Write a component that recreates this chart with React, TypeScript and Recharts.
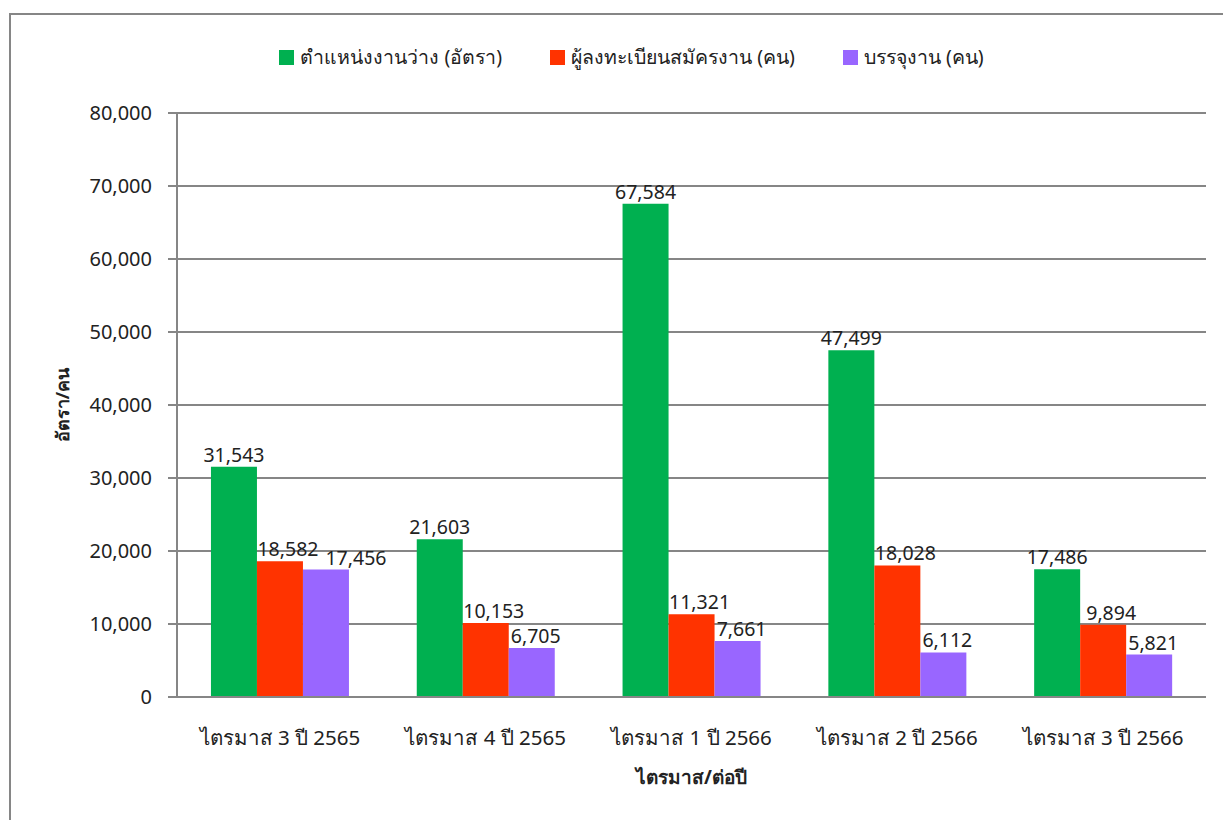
import { Bar, BarChart, CartesianGrid, LabelList, Legend, XAxis, YAxis } from "recharts";

const quarters = [
  "ไตรมาส 3 ปี 2565",
  "ไตรมาส 4 ปี 2565",
  "ไตรมาส 1 ปี 2566",
  "ไตรมาส 2 ปี 2566",
  "ไตรมาส 3 ปี 2566",
];
const vacancies = [31543, 21603, 67584, 47499, 17486];
const applicants = [18582, 10153, 11321, 18028, 9894];
const placements = [17456, 6705, 7661, 6112, 5821];
const yTicks = [0, 10000, 20000, 30000, 40000, 50000, 60000, 70000, 80000];

const series = [
  { key: "vacancies", name: "ตำแหน่งงานว่าง (อัตรา)", color: "#00B050" },
  { key: "applicants", name: "ผู้ลงทะเบียนสมัครงาน (คน)", color: "#FF3300" },
  { key: "placements", name: "บรรจุงาน (คน)", color: "#9966FF" },
];

const data = quarters.map((q, i) => ({
  quarter: q,
  vacancies: vacancies[i],
  applicants: applicants[i],
  placements: placements[i],
}));

const font = "'Noto Sans', 'DejaVu Sans', sans-serif";
const grey = "#868686";
const fmt = (v: number) => v.toLocaleString("en-US");

function LegendBox() {
  return (
    <div
      style={{
        display: "flex",
        justifyContent: "center",
        paddingLeft: 40,
        fontFamily: font,
        fontSize: 19.5,
        color: "#222",
        gap: 48,
      }}
    >
      {series.map((s) => (
        <div key={s.key} style={{ display: "flex", alignItems: "center", gap: 6 }}>
          <span style={{ width: 15, height: 15, background: s.color, display: "inline-block" }} />
          <span>{s.name}</span>
        </div>
      ))}
    </div>
  );
}

// value labels sit a little right of centre on the red/purple bars, like the original
function makeLabel(key: string) {
  return (props: any) => {
    const { x, y, width, value, index } = props;
    let dx = 0;
    if (key === "applicants") dx = 8;
    if (key === "placements") {
      dx = 4;
      if (Math.abs(applicants[index] - placements[index]) < 2500) dx = 30;
    }
    return (
      <text
        x={Number(x) + Number(width) / 2 + dx}
        y={Number(y) - 5}
        textAnchor="middle"
        fill="#222"
        fontSize={19.5}
        fontFamily={font}
      >
        {fmt(Number(value))}
      </text>
    );
  };
}

export default function App() {
  return (
    <div
      style={{
        position: "absolute",
        left: 0,
        top: 0,
        width: 1223,
        height: 820,
        overflow: "hidden",
        background: "#fff",
      }}
    >
      <div
        style={{
          position: "absolute",
          left: 9,
          top: 13,
          width: 1300,
          height: 900,
          border: `2px solid ${grey}`,
        }}
      />
      <BarChart
        width={1223}
        height={820}
        data={data}
        margin={{ top: 82, right: 17, bottom: 43, left: 50 }}
        barCategoryGap="16.5%"
        barGap={0}
        style={{ fontFamily: font }}
      >
        <CartesianGrid vertical={false} stroke={grey} strokeWidth={2} />
        <Legend
          verticalAlign="top"
          content={<LegendBox />}
          wrapperStyle={{ left: 0, width: 1223, top: 42 }}
        />
        <XAxis
          dataKey="quarter"
          tickLine={false}
          axisLine={{ stroke: grey, strokeWidth: 2 }}
          height={80}
          tickMargin={27}
          tick={{ fill: "#222", fontSize: 20.5 }}
          label={{
            value: "ไตรมาส/ต่อปี",
            position: "insideBottom",
            offset: -7,
            fill: "#222",
            fontSize: 19,
            fontWeight: "bold",
          }}
        />
        <YAxis
          width={127}
          domain={[0, 80000]}
          ticks={yTicks}
          tickFormatter={fmt}
          axisLine={{ stroke: grey, strokeWidth: 2 }}
          tickLine={{ stroke: grey, strokeWidth: 2 }}
          tickSize={9}
          tickMargin={16}
          tick={{ fill: "#222", fontSize: 20 }}
          label={{
            value: "อัตรา/คน",
            angle: -90,
            position: "center",
            dx: -51,
            fill: "#222",
            fontSize: 18,
            fontWeight: "bold",
          }}
        />
        {series.map((s) => (
          <Bar key={s.key} dataKey={s.key} name={s.name} fill={s.color} isAnimationActive={false}>
            <LabelList dataKey={s.key} content={makeLabel(s.key)} />
          </Bar>
        ))}
      </BarChart>
    </div>
  );
}
